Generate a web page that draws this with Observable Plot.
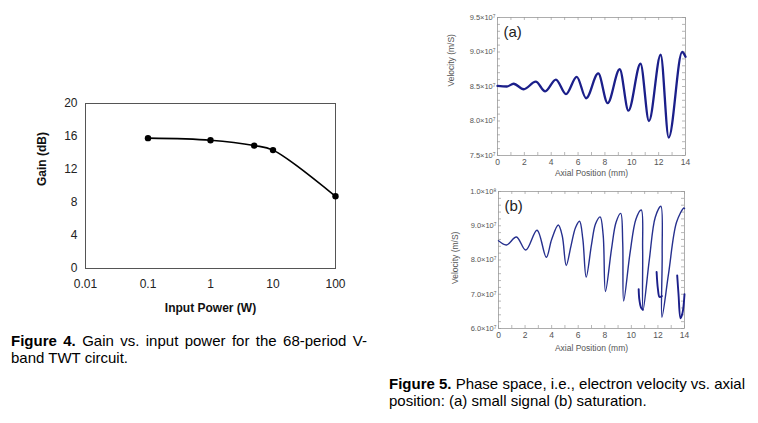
<!DOCTYPE html>
<html><head><meta charset="utf-8">
<script src="https://cdn.jsdelivr.net/npm/d3@7"></script>
<script src="https://cdn.jsdelivr.net/npm/@observablehq/plot@0.6"></script>
<style>
body{margin:0;background:#fff;font-family:"Liberation Sans",Arial,sans-serif;}
#root{position:relative;width:758px;height:423px;overflow:hidden;background:#fff;}
.panel{position:absolute;}
.cap{position:absolute;font-size:15px;line-height:17px;color:#000;width:356px;}
.cap .j{text-align:justify;text-align-last:justify;white-space:nowrap;}
.cap .l{white-space:nowrap;}
</style></head><body><div id="root">
<div class="panel" id="f4" style="left:0;top:90px"></div>
<div class="panel" id="f5a" style="left:430px;top:0"></div>
<div class="panel" id="f5b" style="left:430px;top:180px"></div>
<div class="cap" style="left:11px;top:332px"><div class="j"><b>Figure 4.</b> Gain vs. input power for the 68-period V-</div><div class="l">band TWT circuit.</div></div>
<div class="cap" style="left:389px;top:375px"><div class="j"><b>Figure 5.</b> Phase space, i.e., electron velocity vs. axial</div><div class="l">position: (a) small signal (b) saturation.</div></div>
</div>
<script>
// ---- Figure 4 data ----
const power = [0.1, 1, 5, 10, 100];
const gain = [15.8, 15.55, 14.9, 14.35, 8.75];
const gainTicks = [0, 4, 8, 12, 16, 20];
const powerTicks = [0.01, 0.1, 1, 10, 100];

// ---- Figure 5(a) data (velocity in units of 1e7 m/s) ----
const posA = [0, 0.7, 1.2, 1.95, 2.85, 3.55, 4.35, 5.1, 5.9, 6.6, 7.5, 8.2, 9.1, 9.75, 10.65, 11.28, 12.15, 12.75, 13.75, 14];
const velA = [8.51, 8.50, 8.54, 8.46, 8.57, 8.43, 8.60, 8.39, 8.64, 8.33, 8.69, 8.26, 8.75, 8.15, 8.83, 8.0, 8.96, 7.76, 9.0, 8.93];
const velTicksA = [7.5, 8.0, 8.5, 9.0, 9.5];
const velLabelsA = ["7.5×10⁷", "8.0×10⁷", "8.5×10⁷", "9.0×10⁷", "9.5×10⁷"];

// ---- Figure 5(b) data ----
const posB = [0, 0.6, 1.35, 2.05, 2.9, 3.6, 4.0, 4.5, 4.8, 5.1, 5.45, 5.8, 6.1, 6.35, 6.6, 7.0, 7.3, 7.65, 7.88, 8.05, 8.5, 8.85, 9.2, 9.35, 9.42, 9.9, 10.35, 10.75, 10.85, 10.88, 11.35, 11.8, 12.22, 12.32, 12.3, 12.8, 13.4, 13.95, 14];
const velB = [8.56, 8.44, 8.67, 8.29, 8.87, 8.08, 8.6, 9.02, 8.7, 7.84, 8.4, 8.95, 9.13, 8.6, 7.5, 8.45, 9.05, 9.26, 8.72, 7.08, 8.3, 9.1, 9.36, 8.5, 6.8, 8.2, 9.2, 9.46, 8.3, 6.53, 8.0, 9.25, 9.57, 8.2, 6.33, 7.6, 9.1, 9.52, 9.5];
const hook1Pos = [10.55, 10.6, 10.72, 10.85];
const hook1Vel = [7.15, 6.85, 6.62, 6.55];
const hook2Pos = [11.9, 12.0, 12.12, 12.3];
const hook2Vel = [7.65, 7.15, 6.92, 6.95];
const hook3Pos = [13.45, 13.55, 13.7, 13.85, 14];
const hook3Vel = [7.55, 7.0, 6.3, 6.45, 7.0];
const velTicksB = [6, 7, 8, 9, 10];
const velLabelsB = ["6.0×10⁷", "7.0×10⁷", "8.0×10⁷", "9.0×10⁷", "1.0×10⁸"];
const posTicks = [0, 2, 4, 6, 8, 10, 12, 14];

const FONT = "Liberation Sans, Arial, sans-serif";

// ---- Figure 4 ----
const g4 = power.map((p, i) => ({p, g: gain[i]}));
const fig4 = Plot.plot({
  width: 380, height: 230,
  marginLeft: 85, marginRight: 45, marginTop: 13, marginBottom: 52,
  style: {fontFamily: FONT, color: "#222", background: "transparent"},
  x: {type: "log", domain: [0.01, 100], label: null},
  y: {domain: [0, 20], label: null},
  marks: [
    Plot.frame({stroke: "#555"}),
    Plot.axisY({ticks: gainTicks, tickSize: 0, tickPadding: 8, fontSize: 12, label: null}),
    Plot.axisX({ticks: powerTicks, tickFormat: d => String(d), tickSize: 0, tickPadding: 11, fontSize: 12, label: null}),
    Plot.line(g4, {x: "p", y: "g", curve: "catmull-rom", stroke: "#000", strokeWidth: 1.6}),
    Plot.dot(g4, {x: "p", y: "g", r: 3.2, fill: "#000"}),
    Plot.text(["Gain (dB)"], {text: d => d, frameAnchor: "left", dx: -43, rotate: -90, fontWeight: "bold", fontSize: 12, fill: "#111"}),
    Plot.text(["Input Power (W)"], {text: d => d, frameAnchor: "bottom", dy: 43, fontWeight: "bold", fontSize: 12, fill: "#111"})
  ]
});
document.getElementById("f4").append(fig4);

// helper for phase-space panels
function phasePanel({ml, mr, mt, mb, yDomain, yTicks, yLabels, yMinor, series, tag, xTickPad, xLabelDy, yLabelDx, yLabelDy}) {
  const H = 180 - mt - mb;
  const W = 328 - ml - mr;
  const minorX = d3.range(0, 14.01, 1);
  const marks = [
    Plot.frame({stroke: "#999", strokeWidth: 0.8}),
    Plot.tickX(minorX, {x: d => d, insetTop: H - 3, stroke: "#999", strokeWidth: 0.7}),
    Plot.tickX(minorX, {x: d => d, insetBottom: H - 3, stroke: "#999", strokeWidth: 0.7}),
    Plot.tickY(yMinor, {y: d => d, insetRight: W - 3, stroke: "#999", strokeWidth: 0.7}),
    Plot.tickY(yMinor, {y: d => d, insetLeft: W - 3, stroke: "#999", strokeWidth: 0.7}),
    Plot.axisY({ticks: yTicks, tickFormat: d => yLabels[yTicks.indexOf(d)], tickSize: 0, tickPadding: 2, fontSize: 7.5, fill: "#555", label: null}),
    Plot.axisX({ticks: posTicks, tickSize: 0, tickPadding: xTickPad, fontSize: 8.5, fill: "#555", label: null}),
    ...series,
    Plot.text([tag], {text: d => d, frameAnchor: "top-left", dx: 6, dy: 9, textAnchor: "start", lineAnchor: "top", fontSize: 15, fill: "#222"}),
    Plot.text(["Velocity (m/S)"], {text: d => d, frameAnchor: "left", dx: yLabelDx, dy: yLabelDy, rotate: -90, fontSize: 8.5, fill: "#555"})
  ];
  if (xLabelDy != null) marks.push(Plot.text(["Axial Position (mm)"], {text: d => d, frameAnchor: "bottom", dy: xLabelDy, fontSize: 8.5, fill: "#555"}));
  return Plot.plot({
    width: 328, height: 180,
    marginLeft: ml, marginRight: mr, marginTop: mt, marginBottom: mb,
    style: {fontFamily: FONT, background: "transparent"},
    x: {domain: [0, 14], label: null},
    y: {domain: yDomain, label: null},
    marks
  });
}

// ---- Figure 5(a) ----
const dA = posA.map((x, i) => ({x, v: velA[i]}));
const fig5a = phasePanel({
  ml: 67, mr: 73, mt: 17, mb: 25,
  yDomain: [7.5, 9.5], yTicks: velTicksA, yLabels: velLabelsA,
  yMinor: d3.range(7.5, 9.51, 0.1),
  series: [Plot.line(dA, {x: "x", y: "v", curve: "monotone-x", stroke: "#1b1f8a", strokeWidth: 2.3})],
  tag: "(a)", xTickPad: 3, xLabelDy: 20, yLabelDx: -46, yLabelDy: 0
});
document.getElementById("f5a").append(fig5a);

// ---- Figure 5(b) ----
const dB = posB.map((x, i) => ({x, v: velB[i]}));
const hooks = [
  ...hook1Pos.map((x, i) => ({x, v: hook1Vel[i], k: 1})),
  ...hook2Pos.map((x, i) => ({x, v: hook2Vel[i], k: 2})),
  ...hook3Pos.map((x, i) => ({x, v: hook3Vel[i], k: 3}))
];
const fig5b = phasePanel({
  ml: 68, mr: 74, mt: 11, mb: 32,
  yDomain: [6, 10], yTicks: velTicksB, yLabels: velLabelsB,
  yMinor: d3.range(6, 10.01, 0.2),
  series: [
    Plot.line(dB, {x: "x", y: "v", curve: "catmull-rom", stroke: "#26308e", strokeWidth: 1.4}),
    Plot.line(hooks, {x: "x", y: "v", z: "k", curve: "catmull-rom", stroke: "#1b1f8a", strokeWidth: 1.9})
  ],
  tag: "(b)", xTickPad: 3, xLabelDy: 22, yLabelDx: -43, yLabelDy: 24
});
document.getElementById("f5b").append(fig5b);
</script>
</body></html>
